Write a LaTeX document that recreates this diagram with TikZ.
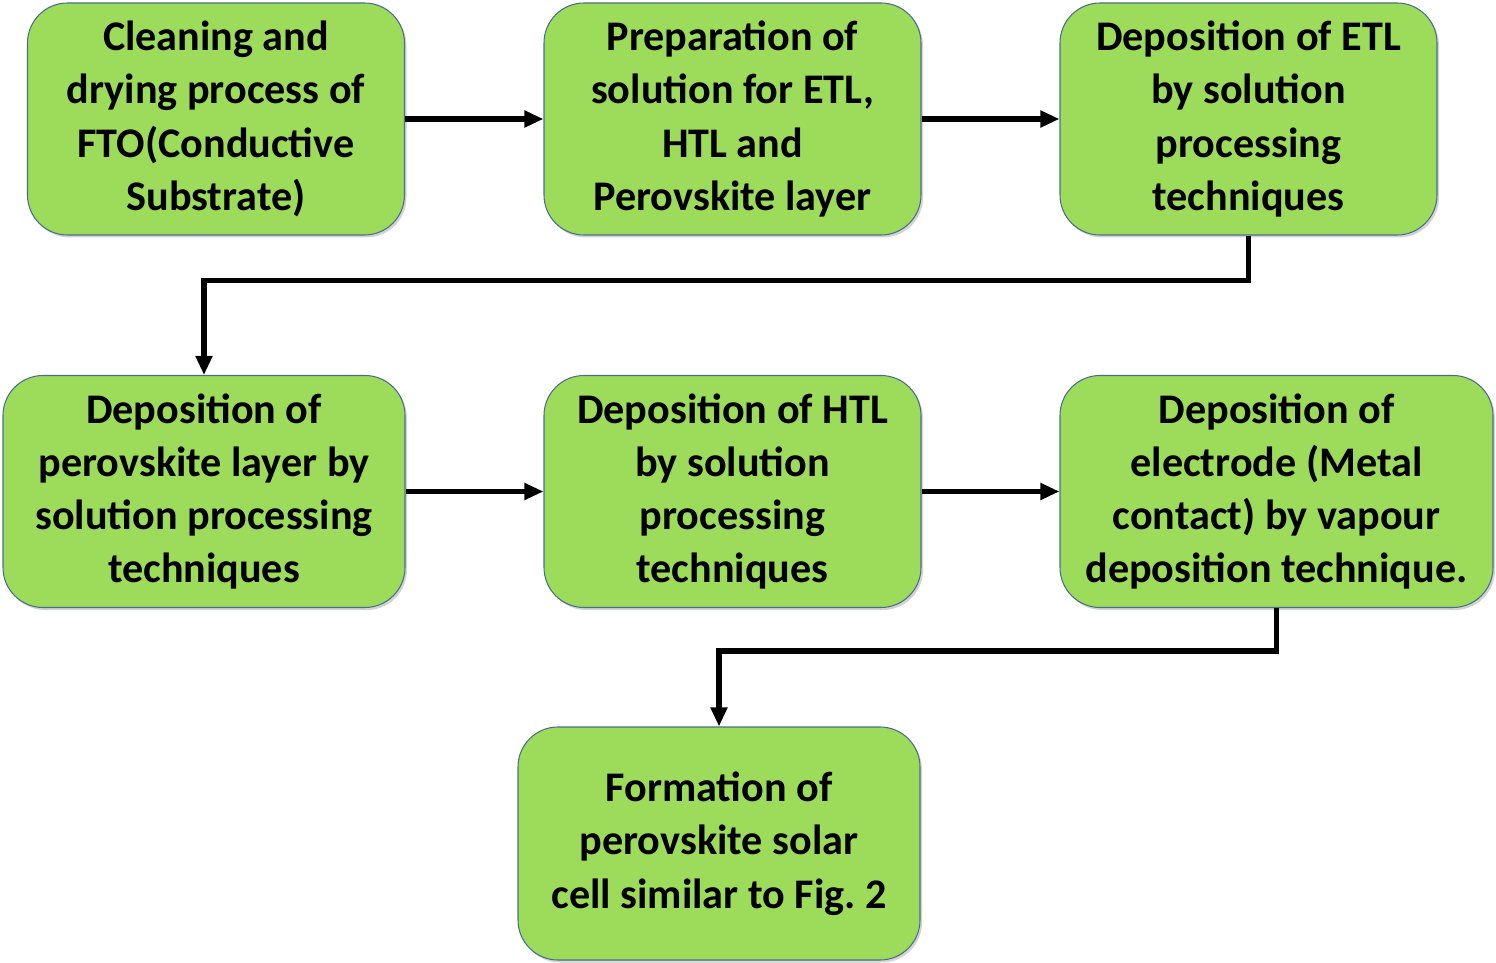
\documentclass[tikz,border=0pt]{standalone}
\usepackage{fontspec}
\setmainfont{Carlito}
\usepackage{tikz}
\usepackage{xcolor}
\usetikzlibrary{positioning,arrows.meta,shadows}
\definecolor{boxfill}{HTML}{9DDB5B}
\definecolor{boxedge}{HTML}{4A6E8A}

\begin{document}
\begin{tikzpicture}[every node/.style={font=\bfseries\fontsize{24}{30.3}\selectfont}]
      \useasboundingbox (0,0) rectangle (29.92,-19.26);
      \tikzstyle{stage}=[rounded corners=0.8cm,draw=boxedge,line width=0.6pt,fill=boxfill,
                         minimum width=7.54cm,minimum height=4.64cm,align=center,inner sep=2pt,
                         drop shadow={opacity=0.35,shadow xshift=0.04cm,shadow yshift=-0.05cm}];
      \tikzstyle{flow}=[-{Triangle[length=0.38cm,width=0.32cm]},line width=3pt,black];
      % first row
      \node[stage] (clean) at (4.32,-2.38)  {Cleaning and\\drying process of\\FTO(Conductive\\Substrate)};
      \node[stage] (prep)  at (14.65,-2.38) {Preparation of\\solution for ETL,\\HTL and\\Perovskite layer};
      \node[stage] (etl)   at (24.97,-2.38) {Deposition of ETL\\by solution\\processing\\techniques};
      % second row
      \node[stage,minimum width=8.04cm] (pvk) at (4.08,-9.83)  {Deposition of\\perovskite layer by\\solution processing\\techniques};
      \node[stage] (htl)   at (14.65,-9.83) {Deposition of HTL\\by solution\\processing\\techniques};
      \node[stage,minimum width=8.66cm] (elec) at (25.53,-9.83) {Deposition of\\electrode (Metal\\contact) by vapour\\deposition technique.};
      % last step
      \node[stage,minimum width=8.04cm,minimum height=4.66cm] (cell) at (14.38,-16.87) {Formation of\\perovskite solar\\cell similar to Fig.\ 2};
      \draw[flow] (clean.east) -- (prep.west);
      \draw[flow] (prep.east) -- (etl.west);
      \draw[flow] (etl.south) -- ++(0,-0.9) -| (pvk.north);
      \draw[flow] (pvk.east) -- (htl.west);
      \draw[flow] (htl.east) -- (elec.west);
      \draw[flow] (elec.south) -- ++(0,-0.86) -| (cell.north);
    \end{tikzpicture}
\end{document}
